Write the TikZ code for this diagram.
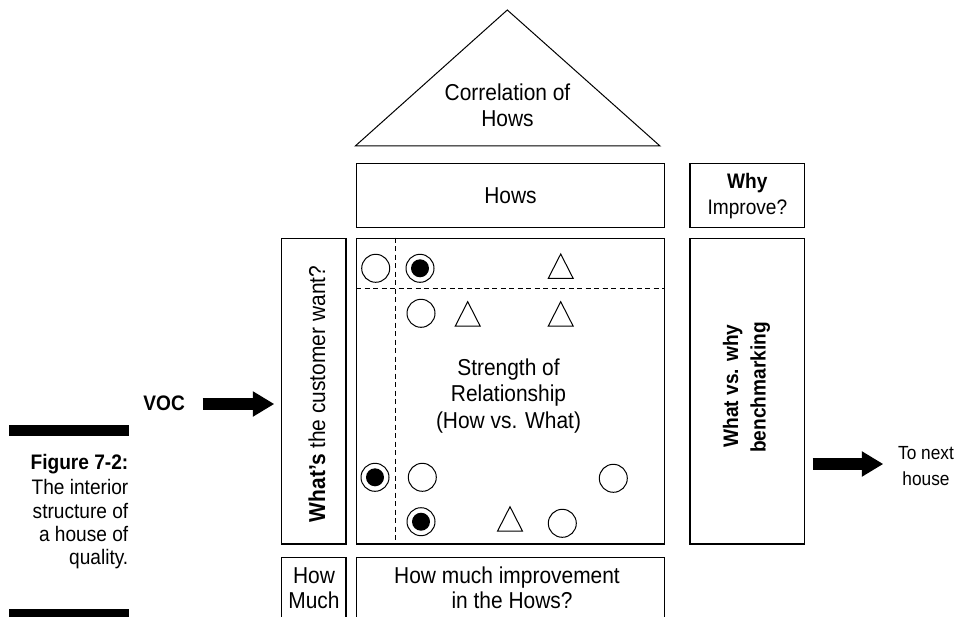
\documentclass[tikz,border=0pt]{standalone}
\usepackage{fontspec}
\setmainfont{Liberation Sans}[FakeStretch=0.91]
\usetikzlibrary{arrows.meta}
\newcommand\txtbig{\fontsize{23}{26}\selectfont}
\newcommand\txtsmall{\fontsize{21}{24}\selectfont}
\begin{document}
\begin{tikzpicture}[x=1pt,y=-1pt,
  box/.style={draw, line width=1.2pt, inner sep=0pt},
  lbl/.style={font=\txtbig, inner sep=0pt, anchor=base},
  slbl/.style={font=\txtsmall, inner sep=0pt, anchor=base},
  caption/.style={font=\txtsmall, inner sep=0pt, anchor=base east},
  ring/.style={circle, draw, line width=1pt, minimum size=28pt, inner sep=0pt},
  bull/.style={ring, path picture={\fill (path picture bounding box.center) circle (9pt);}},
  dashline/.style={line width=1pt, dash pattern=on 5pt off 3.5pt},
  blockarrow/.style={line width=12pt, -{Triangle[length=21.5pt,width=24pt]}},
  tri/.pic={\draw[line width=1pt, line join=miter] (0,-12.2) -- (12.5,12.3) -- (-12.5,12.3) -- cycle;}
]
\useasboundingbox (0,0) rectangle (968,617);
\clip (0,0) rectangle (968,617);

% roof: correlation of the hows
\draw[line width=1pt] (355.3,146) -- (507.3,10) -- (660,146) -- cycle;
\node[lbl] (corr1) at (507.5,101) {Correlation of};
\node[lbl] (corr2) at (507.5,126.7) {Hows};

% top row
\node[box, minimum width=307.6pt, minimum height=64.4pt] (hows) at (510.5,195.5) {};
\node[lbl] (howsT) at (510.5,204) {Hows};
\node[box, minimum width=114.7pt, minimum height=64pt] (why) at (747.35,195.3) {};
\node[slbl] (why1) at (747.35,188.3) {\bfseries Why};
\node[slbl] (why2) at (747.35,214.5) {Improve?};

% middle row
\node[box, minimum width=64.3pt, minimum height=305.7pt] (what) at (313.85,391.15) {};
\node[lbl, rotate=90] (whatT) at (325,394) {{\bfseries What’s} the customer want?};
\node[box, minimum width=307.6pt, minimum height=305.7pt] (mat) at (510.5,391.15) {};
\node[box, minimum width=114.7pt, minimum height=305.7pt] (bench) at (747.35,391.15) {};
\node[slbl, rotate=90] (bench1) at (738,386) {\bfseries What vs. why};
\node[slbl, rotate=90] (bench2) at (765.5,387.5) {\bfseries benchmarking};

% relationship matrix
\coordinate (vd) at (395.3,0);
\coordinate (hd) at (0,289);
\draw[dashline] (mat.north -| vd) -- (mat.south -| vd);
\draw[dashline] (mat.west |- hd) -- (mat.east |- hd);
\node[lbl] (str1) at (508.5,375) {Strength of};
\node[lbl] (str2) at (508.5,401.7) {Relationship};
\node[lbl] (str3) at (508.5,428.3) {(How vs. What)};

\node[ring] (r1a) at (375.7,268.3) {};
\node[bull] (r1b) at (420,268.3) {};
\pic at (560.7,266.2) {tri};
\node[ring] (r2a) at (421,313.3) {};
\pic at (467.7,313.9) {tri};
\pic at (560.7,313.9) {tri};
\node[bull] (r3a) at (375,477.3) {};
\node[ring] (r3b) at (422.3,477.3) {};
\node[ring] (r3c) at (613.3,478.3) {};
\node[bull] (r4a) at (421,521.7) {};
\pic at (510,518.9) {tri};
\node[ring] (r4b) at (562.3,523.3) {};

% bottom row
\node[box, minimum width=64.3pt, minimum height=90pt] (howmuch) at (313.85,602.7) {};
\node[lbl] (hm1) at (314,583.3) {How};
\node[lbl] (hm2) at (314,608.3) {Much};
\node[box, minimum width=307.6pt, minimum height=90pt] (impr) at (510.5,602.7) {};
\node[lbl] (im1) at (507,583.3) {How much improvement};
\node[lbl] (im2) at (512,608.3) {in the Hows?};

% voice of the customer in, next house out
\node[slbl] (voc) at (164.2,410) {\bfseries VOC};
\coordinate (vocTail) at (202.7,404);
\coordinate (vocTip) at (274.3,404);
\draw[blockarrow] (vocTail) -- (vocTip);
\coordinate (nxTail) at (812.7,464);
\coordinate (nxTip) at (883.3,464);
\draw[blockarrow] (nxTail) -- (nxTip);
\node[lbl, font=\fontsize{19}{22}\selectfont] (nx1) at (926,459.3) {To next};
\node[lbl, font=\fontsize{19}{22}\selectfont] (nx2) at (926,485) {house};

% figure caption
\fill (9.3,425) rectangle (129.3,436);
\fill (9.3,609.3) rectangle (129.3,622);
\node[caption] (cap1) at (128.5,469.5) {\bfseries Figure 7-2:};
\node[caption] (cap2) at (128.5,494.5) {The interior};
\node[caption] (cap3) at (128.5,518.3) {structure of};
\node[caption] (cap4) at (128.5,541.7) {a house of};
\node[caption] (cap5) at (128.5,564.5) {quality.};
\end{tikzpicture}
\end{document}
